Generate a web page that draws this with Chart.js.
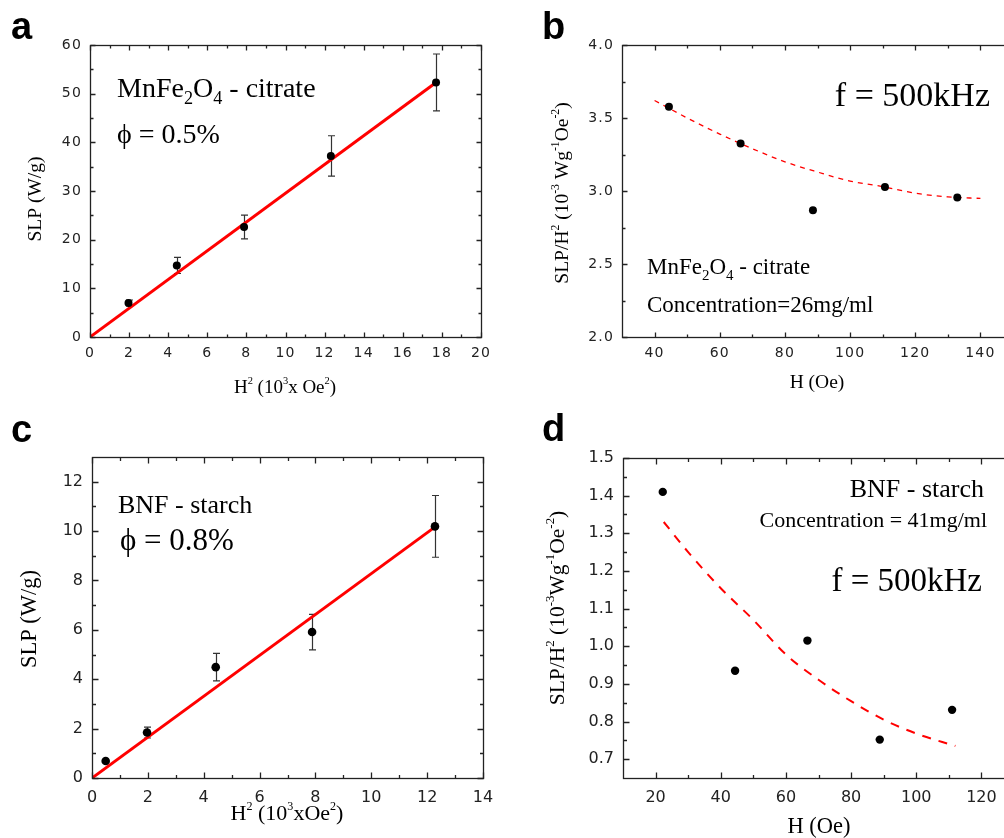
<!DOCTYPE html>
<html>
<head>
<meta charset="utf-8">
<script src="https://cdn.jsdelivr.net/npm/chart.js@4.4.1/dist/chart.umd.min.js"></script>
<style>
  html, body { margin: 0; padding: 0; background: #fff; overflow: hidden; width: 1004px; height: 838px; }
  canvas { position: absolute; }
</style>
</head>
<body>
<canvas id="panel-a" width="500" height="410" style="left:0;top:0"></canvas>
<canvas id="panel-b" width="540" height="410" style="left:500px;top:0"></canvas>
<canvas id="panel-c" width="500" height="428" style="left:0;top:410px"></canvas>
<canvas id="panel-d" width="540" height="428" style="left:500px;top:410px"></canvas>
<script>
// (a) SLP vs H^2, MnFe2O4 - citrate
const hSqA = [1.97, 4.44, 7.88, 12.32, 17.7];
const slpA = [7.0, 14.7, 22.6, 37.2, 52.3];
const slpErrA = [0.6, 1.65, 2.45, 4.15, 5.85];
const fitXA = [0, 17.7];
const fitYA = [0, 52.3];
const xTicksA = [0, 2, 4, 6, 8, 10, 12, 14, 16, 18, 20];
const yTicksA = [0, 10, 20, 30, 40, 50, 60];

// (b) SLP/H^2 vs H, MnFe2O4 - citrate
const hB = [44.4, 66.4, 88.6, 110.7, 132.9];
const ratioB = [3.577, 3.326, 2.869, 3.028, 2.956];
const curveXB = [40, 50, 60, 70, 80, 90, 100, 110, 120, 130, 140];
const curveYB = [3.62, 3.50, 3.39, 3.29, 3.20, 3.13, 3.068, 3.03, 2.985, 2.96, 2.949];
const xTicksB = [40, 60, 80, 100, 120, 140];
const yTicksB = [2.0, 2.5, 3.0, 3.5, 4.0];

// (c) SLP vs H^2, BNF - starch
const hSqC = [0.49, 1.97, 4.43, 7.88, 12.28];
const slpC = [0.69, 1.84, 4.49, 5.91, 10.19];
const slpErrC = [0, 0.22, 0.56, 0.72, 1.25];
const fitXC = [0, 12.2];
const fitYC = [0, 10.1];
const xTicksC = [0, 2, 4, 6, 8, 10, 12, 14];
const yTicksC = [0, 2, 4, 6, 8, 10, 12];

// (d) SLP/H^2 vs H, BNF - starch
const hD = [22.2, 44.4, 66.6, 88.8, 111.0];
const ratioD = [1.41, 0.935, 1.015, 0.752, 0.831];
const curveXD = [22.5, 30, 40, 50, 60, 70, 80, 90, 100, 112];
const curveYD = [1.33, 1.25, 1.154, 1.07, 0.978, 0.911, 0.854, 0.805, 0.768, 0.735];
const xTicksD = [20, 40, 60, 80, 100, 120];
const yTicksD = [0.7, 0.8, 0.9, 1.0, 1.1, 1.2, 1.3, 1.4, 1.5];

const SERIF = '"Liberation Serif", "Times New Roman", serif';
const SANS = '"DejaVu Sans", "Open Sans", sans-serif';

// minor ticks sit halfway between the labelled ones
function midpoints(ticks) {
  const out = [];
  for (let i = 0; i < ticks.length - 1; i++) out.push((ticks[i] + ticks[i + 1]) / 2);
  return out;
}

// tiny markup: x^{2} is a superscript, O_{4} a subscript
function parseRich(str) {
  const parts = [];
  const re = /([_^])\{([^}]*)\}|([^_^]+)/g;
  let m;
  while ((m = re.exec(str))) {
    if (m[1]) parts.push({ t: m[2], k: m[1] === '^' ? 'sup' : 'sub' });
    else parts.push({ t: m[3], k: '' });
  }
  return parts;
}

function drawRich(ctx, t) {
  const parts = parseRich(t.text);
  const size = t.size;
  const small = size * (t.script || 0.6);
  ctx.save();
  ctx.letterSpacing = '0px';
  ctx.translate(t.x, t.y);
  if (t.rotate) ctx.rotate(-Math.PI / 2);
  ctx.fillStyle = '#000';
  ctx.textAlign = 'left';
  ctx.textBaseline = 'alphabetic';
  let w = 0;
  parts.forEach(p => {
    ctx.font = (p.k ? small : size) + 'px ' + SERIF;
    p.w = ctx.measureText(p.t).width;
    w += p.w;
  });
  let cx = t.align === 'center' ? -w / 2 : t.align === 'right' ? -w : 0;
  parts.forEach(p => {
    ctx.font = (p.k ? small : size) + 'px ' + SERIF;
    const dy = p.k === 'sup' ? -size * 0.45 : p.k === 'sub' ? size * 0.24 : 0;
    ctx.fillText(p.t, cx, dy);
    cx += p.w;
  });
  ctx.restore();
}

const YW = 40, XH = 30;

function makePanel(id, p) {
  const canvas = document.getElementById(id);
  const W = canvas.width, H = canvas.height;

  const decor = {
    id: 'decor',
    beforeDraw(chart) {
      // the tick numerals are set a little loose
      chart.ctx.letterSpacing = (p.spacing || 0) + 'px';
    },
    beforeDatasetsDraw(chart) {
      if (!p.err) return;
      const ctx = chart.ctx, xs = chart.scales.x, ys = chart.scales.y;
      ctx.save();
      ctx.strokeStyle = '#333';
      ctx.lineWidth = 1.2;
      p.xs.forEach((xv, i) => {
        if (!p.err[i]) return;
        const px = Math.round(xs.getPixelForValue(xv)) + 0.5;
        const y1 = ys.getPixelForValue(p.ys[i] - p.err[i]);
        const y2 = ys.getPixelForValue(p.ys[i] + p.err[i]);
        ctx.beginPath();
        ctx.moveTo(px, y1); ctx.lineTo(px, y2);
        ctx.moveTo(px - 3.5, y1); ctx.lineTo(px + 3.5, y1);
        ctx.moveTo(px - 3.5, y2); ctx.lineTo(px + 3.5, y2);
        ctx.stroke();
      });
      ctx.restore();
    },
    afterDraw(chart) {
      const ctx = chart.ctx, a = chart.chartArea;
      const xs = chart.scales.x, ys = chart.scales.y;
      const l = Math.round(a.left) + 0.5, r = Math.round(a.right) + 0.5;
      const t = Math.round(a.top) + 0.5, b = Math.round(a.bottom) + 0.5;
      ctx.save();
      ctx.strokeStyle = '#222';
      ctx.lineWidth = 1.3;
      ctx.strokeRect(l, t, r - l, b - t);
      // inward ticks on all four sides
      const mark = (vals, len) => {
        ctx.beginPath();
        vals.forEach(v => {
          const px = Math.round(xs.getPixelForValue(v)) + 0.5;
          if (px < l || px > r) return;
          ctx.moveTo(px, b); ctx.lineTo(px, b - len);
          ctx.moveTo(px, t); ctx.lineTo(px, t + len);
        });
        ctx.stroke();
      };
      const markY = (vals, len) => {
        ctx.beginPath();
        vals.forEach(v => {
          const py = Math.round(ys.getPixelForValue(v)) + 0.5;
          if (py < t || py > b) return;
          ctx.moveTo(l, py); ctx.lineTo(l + len, py);
          ctx.moveTo(r, py); ctx.lineTo(r - len, py);
        });
        ctx.stroke();
      };
      mark(p.xTicks, p.major); mark(midpoints(p.xTicks), p.minor);
      markY(p.yTicks, p.major); markY(midpoints(p.yTicks), p.minor);
      ctx.restore();

      // panel letter
      ctx.save();
      ctx.letterSpacing = '0px';
      ctx.fillStyle = '#000';
      ctx.font = 'bold 38px "Liberation Sans", Arial, sans-serif';
      ctx.textBaseline = 'alphabetic';
      ctx.fillText(p.letter.text, p.letter.x, p.letter.y);
      ctx.restore();

      p.texts.forEach(txt => drawRich(ctx, txt));
    }
  };

  return new Chart(canvas, {
    type: 'scatter',
    data: {
      datasets: [
        {
          data: p.xs.map((x, i) => ({ x, y: p.ys[i] })),
          pointRadius: p.dot,
          pointBackgroundColor: '#000',
          pointBorderWidth: 0,
          showLine: false
        },
        {
          data: p.fitX.map((x, i) => ({ x, y: p.fitY[i] })),
          showLine: true,
          borderColor: '#ff0000',
          borderWidth: p.lineWidth,
          borderDash: p.dash || [],
          cubicInterpolationMode: 'monotone',
          pointRadius: 0
        }
      ]
    },
    options: {
      responsive: false,
      animation: false,
      devicePixelRatio: 1,
      layout: {
        padding: { left: p.box.l - YW, top: p.box.t, right: W - p.box.r, bottom: H - p.box.b - XH }
      },
      plugins: { legend: { display: false }, tooltip: { enabled: false } },
      scales: {
        x: {
          type: 'linear', min: p.xMin, max: p.xMax,
          grid: { display: false, drawTicks: false },
          border: { display: false },
          ticks: { color: '#222', padding: p.xPad, font: { family: SANS, size: p.tickSize }, callback: v => v },
          afterBuildTicks: s => { s.ticks = p.xTicks.map(v => ({ value: v })); },
          afterFit: s => { s.height = XH; s.paddingLeft = 0; s.paddingRight = 0; }
        },
        y: {
          type: 'linear', min: p.yMin, max: p.yMax,
          grid: { display: false, drawTicks: false },
          border: { display: false },
          ticks: { color: '#222', padding: p.yPad, font: { family: SANS, size: p.tickSize }, callback: v => v.toFixed(p.yDec) },
          afterBuildTicks: s => { s.ticks = p.yTicks.map(v => ({ value: v })); },
          afterFit: s => { s.width = YW; s.paddingTop = 0; s.paddingBottom = 0; }
        }
      }
    },
    plugins: [decor]
  });
}

makePanel('panel-a', {
  xs: hSqA, ys: slpA, err: slpErrA, fitX: fitXA, fitY: fitYA,
  xTicks: xTicksA, yTicks: yTicksA, xMin: 0, xMax: 20, yMin: 0, yMax: 60, yDec: 0,
  box: { l: 90, t: 45, r: 481, b: 337 },
  dot: 4, lineWidth: 3, major: 5, minor: 3, tickSize: 14, spacing: 1.2, xPad: 8, yPad: 8,
  letter: { text: 'a', x: 11, y: 39 },
  texts: [
    { text: 'MnFe_{2}O_{4} - citrate', x: 117, y: 97, size: 28, script: 0.65 },
    { text: 'ϕ = 0.5%', x: 117, y: 143, size: 28 },
    { text: 'SLP (W/g)', x: 41, y: 199, size: 19.5, rotate: true, align: 'center' },
    { text: 'H^{2} (10^{3}x Oe^{2})', x: 285, y: 393, size: 19, script: 0.55, align: 'center' }
  ]
});

makePanel('panel-b', {
  xs: hB, ys: ratioB, fitX: curveXB, fitY: curveYB,
  xTicks: xTicksB, yTicks: yTicksB, xMin: 30, xMax: 150, yMin: 2, yMax: 4, yDec: 1,
  box: { l: 122, t: 45, r: 513, b: 337 },
  dot: 4, lineWidth: 1.3, dash: [5, 5], major: 5, minor: 3, tickSize: 14, spacing: 1.2, xPad: 8, yPad: 8,
  letter: { text: 'b', x: 42, y: 39 },
  texts: [
    { text: 'f = 500kHz', x: 490, y: 106, size: 34, align: 'right' },
    { text: 'MnFe_{2}O_{4} - citrate', x: 147, y: 274, size: 23, script: 0.65 },
    { text: 'Concentration=26mg/ml', x: 147, y: 312, size: 23 },
    { text: 'SLP/H^{2} (10^{-3} Wg^{-1}Oe^{-2})', x: 68, y: 193, size: 19.5, script: 0.6, rotate: true, align: 'center' },
    { text: 'H (Oe)', x: 317, y: 388, size: 19.5, align: 'center' }
  ]
});

makePanel('panel-c', {
  xs: hSqC, ys: slpC, err: slpErrC, fitX: fitXC, fitY: fitYC,
  xTicks: xTicksC, yTicks: yTicksC, xMin: 0, xMax: 14, yMin: 0, yMax: 13, yDec: 0,
  box: { l: 92, t: 47, r: 483, b: 368 },
  dot: 4.3, lineWidth: 3, major: 6, minor: 3.5, tickSize: 16, xPad: 10, yPad: 9,
  letter: { text: 'c', x: 11, y: 32 },
  texts: [
    { text: 'BNF - starch', x: 118, y: 103, size: 26 },
    { text: 'ϕ = 0.8%', x: 120, y: 140, size: 31 },
    { text: 'SLP (W/g)', x: 36, y: 209, size: 22.5, rotate: true, align: 'center' },
    { text: 'H^{2} (10^{3}xOe^{2})', x: 287, y: 410, size: 22, script: 0.55, align: 'center' }
  ]
});

makePanel('panel-d', {
  xs: hD, ys: ratioD, fitX: curveXD, fitY: curveYD,
  xTicks: xTicksD, yTicks: yTicksD, xMin: 10, xMax: 130, yMin: 0.65, yMax: 1.5, yDec: 1,
  box: { l: 123, t: 48, r: 514, b: 368 },
  dot: 4.2, lineWidth: 2, dash: [9, 8], major: 6, minor: 3.5, tickSize: 16, xPad: 10, yPad: 9,
  letter: { text: 'd', x: 42, y: 31 },
  texts: [
    { text: 'BNF - starch', x: 484, y: 87, size: 26, align: 'right' },
    { text: 'Concentration = 41mg/ml', x: 487, y: 117, size: 22, align: 'right' },
    { text: 'f = 500kHz', x: 482, y: 181, size: 33, align: 'right' },
    { text: 'SLP/H^{2} (10^{-3}Wg^{-1}Oe^{-2})', x: 64, y: 198, size: 21.5, script: 0.6, rotate: true, align: 'center' },
    { text: 'H (Oe)', x: 319, y: 423, size: 22.5, align: 'center' }
  ]
});
</script>
</body>
</html>
